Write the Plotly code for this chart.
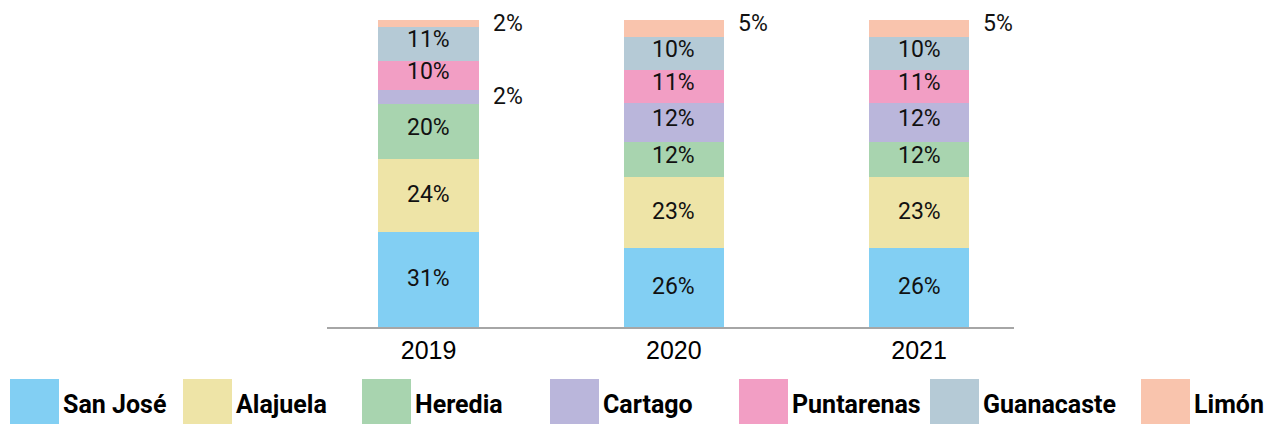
import plotly.graph_objects as go

years = ["2019", "2020", "2021"]
regions = ["San José", "Alajuela", "Heredia", "Cartago", "Puntarenas", "Guanacaste", "Limón"]
colors = ["#82CFF3", "#EEE4A7", "#A8D4AF", "#BAB6DB", "#F29EC4", "#B5CAD6", "#F9C4AD"]

# segment sizes (%)
san_jose   = [30.9, 25.7, 25.7]
alajuela   = [23.8, 23.1, 23.1]
heredia    = [17.9, 11.6, 11.6]
cartago    = [4.7, 12.5, 12.5]
puntarenas = [9.4, 10.8, 10.8]
guanacaste = [11.1, 10.8, 10.8]
limon      = [2.3, 5.5, 5.5]

# printed labels
lab_san_jose   = ["31%", "26%", "26%"]
lab_alajuela   = ["24%", "23%", "23%"]
lab_heredia    = ["20%", "12%", "12%"]
lab_cartago    = ["2%", "12%", "12%"]
lab_puntarenas = ["10%", "11%", "11%"]
lab_guanacaste = ["11%", "10%", "10%"]
lab_limon      = ["2%", "5%", "5%"]
# which labels sit outside the bar (to the right)
out_cartago = [True, False, False]
out_limon   = [True, True, True]

series = [san_jose, alajuela, heredia, cartago, puntarenas, guanacaste, limon]
labels = [lab_san_jose, lab_alajuela, lab_heredia, lab_cartago, lab_puntarenas, lab_guanacaste, lab_limon]
outside = [[False]*3, [False]*3, [False]*3, out_cartago, [False]*3, [False]*3, out_limon]

LABEL_FONT = dict(family="Roboto", size=23, color="#111111")
LEGEND_FONT = dict(family="Roboto", size=25, color="#000000", weight="bold")

fig = go.Figure()
for name, vals, col in zip(regions, series, colors):
    fig.add_trace(go.Bar(x=years, y=vals, name=name, marker=dict(color=col, line=dict(width=0)),
                         width=0.41, showlegend=False, hoverinfo="skip"))

annotations = []
base = [0.0, 0.0, 0.0]
n_series = len(series)
for k, (vals, labs, outs) in enumerate(zip(series, labels, outside)):
    for i in range(len(years)):
        mid = base[i] + vals[i] / 2
        top = base[i] + vals[i]
        if outs[i]:
            ylab = top - 1.2 if k == n_series - 1 else mid
            annotations.append(dict(x=i, y=ylab, xref="x", yref="y", text=labs[i],
                                    showarrow=False, xanchor="left", yanchor="middle", xshift=62,
                                    font=LABEL_FONT))
        else:
            annotations.append(dict(x=i, y=mid, xref="x", yref="y", text=labs[i], showarrow=False,
                                    xanchor="center", yanchor="middle",
                                    yshift=4 if vals[i] < 20 else 1, font=LABEL_FONT))
        base[i] += vals[i]

# custom legend (pixel layout converted to paper coords)
L, R_, T, B = 327, 1014, 20, 327
pw, ph = R_ - L, B - T
def px(x):
    return (x - L) / pw
def py(y):
    return (B - y) / ph

box_left = [10, 183, 362, 550, 739, 930, 1141]
shapes = []
for name, col, bx in zip(regions, colors, box_left):
    shapes.append(dict(type="rect", xref="paper", yref="paper", x0=px(bx), x1=px(bx + 49),
                       y0=py(379), y1=py(432), fillcolor=col, line=dict(width=0), layer="above"))
    annotations.append(dict(x=px(bx + 51), y=py(404), xref="paper", yref="paper", text=name,
                            showarrow=False, xanchor="left", yanchor="middle", font=LEGEND_FONT))

fig.update_layout(
    barmode="stack",
    width=1264, height=424,
    margin=dict(l=L, r=1264 - R_, t=T, b=424 - B, pad=0),
    paper_bgcolor="white", plot_bgcolor="white",
    bargap=0,
    xaxis=dict(type="category", range=[-0.414, 2.387], showline=True, linecolor="#A6A6A6", linewidth=2,
               showgrid=False, ticks="", tickfont=dict(family="Liberation Sans", size=25, color="#000000"),
               zeroline=False, fixedrange=True),
    yaxis=dict(range=[0, 100], visible=False, showgrid=False, zeroline=False, fixedrange=True),
    annotations=annotations,
    shapes=shapes,
    showlegend=False,
)

fig.write_html("out.html", config={"displayModeBar": False},
               post_script="document.body.style.margin='0';document.body.style.padding='0';")
